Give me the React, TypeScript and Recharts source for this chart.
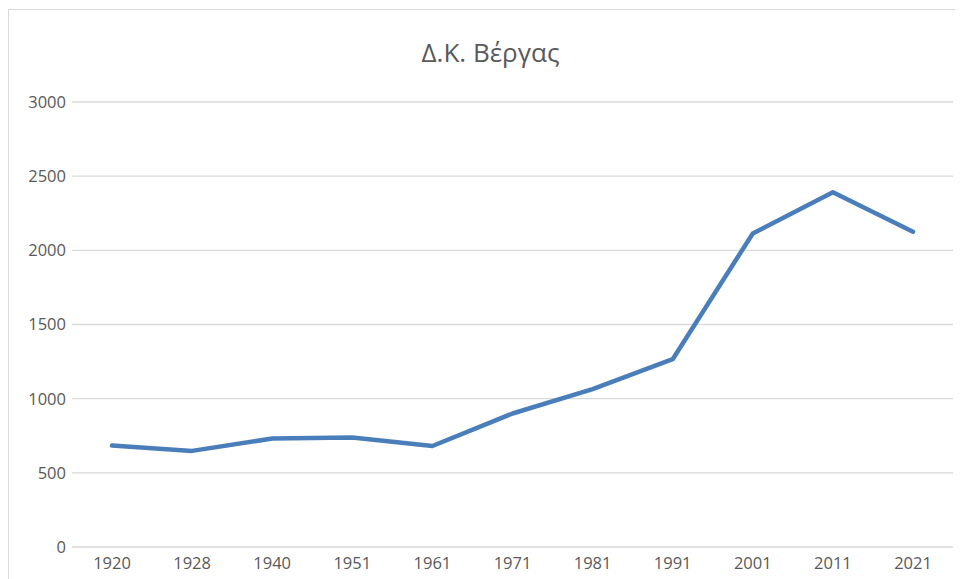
import { CartesianGrid, Line, LineChart, XAxis, YAxis } from "recharts";

const years = ["1920", "1928", "1940", "1951", "1961", "1971", "1981", "1991", "2001", "2011", "2021"];
const population = [684, 648, 731, 738, 681, 900, 1064, 1266, 2114, 2391, 2125];
const yTicks = [0, 500, 1000, 1500, 2000, 2500, 3000];

const data = years.map((year, i) => ({ year, value: population[i] }));

const textColor = "#595959";
const font = "'Open Sans', sans-serif";

export default function App() {
  return (
    <div
      style={{
        position: "relative",
        width: 955,
        height: 570,
        marginTop: 1,
        borderTop: "1px solid #d9d9d9",
        borderLeft: "1px solid #d9d9d9",
        overflow: "hidden",
        fontFamily: font,
      }}
    >
      <div
        style={{
          position: "absolute",
          left: 0,
          width: 963,
          top: 24,
          textAlign: "center",
          fontSize: 26,
          color: textColor,
        }}
      >
        Δ.Κ. Βέργας
      </div>
      <LineChart
        width={954}
        height={570}
        data={data}
        margin={{ top: 92, right: 10, left: 0, bottom: 3 }}
      >
        <CartesianGrid vertical={false} stroke="#d9d9d9" strokeWidth={1.3} />
        <XAxis
          dataKey="year"
          axisLine={false}
          tickLine={false}
          padding={{ left: 40, right: 40 }}
          height={30}
          tick={{ fill: textColor, fontSize: 16.5, fontFamily: font }}
          tickMargin={4}
          interval={0}
        />
        <YAxis
          domain={[0, 3000]}
          ticks={yTicks}
          axisLine={false}
          tickLine={false}
          width={63}
          tick={{ fill: textColor, fontSize: 16.5, fontFamily: font }}
          tickMargin={0}
          interval={0}
        />
        <Line
          type="linear"
          dataKey="value"
          stroke="#4a7ebb"
          strokeWidth={4.5}
          strokeLinejoin="round"
          strokeLinecap="round"
          dot={false}
          activeDot={false}
          isAnimationActive={false}
        />
      </LineChart>
    </div>
  );
}
